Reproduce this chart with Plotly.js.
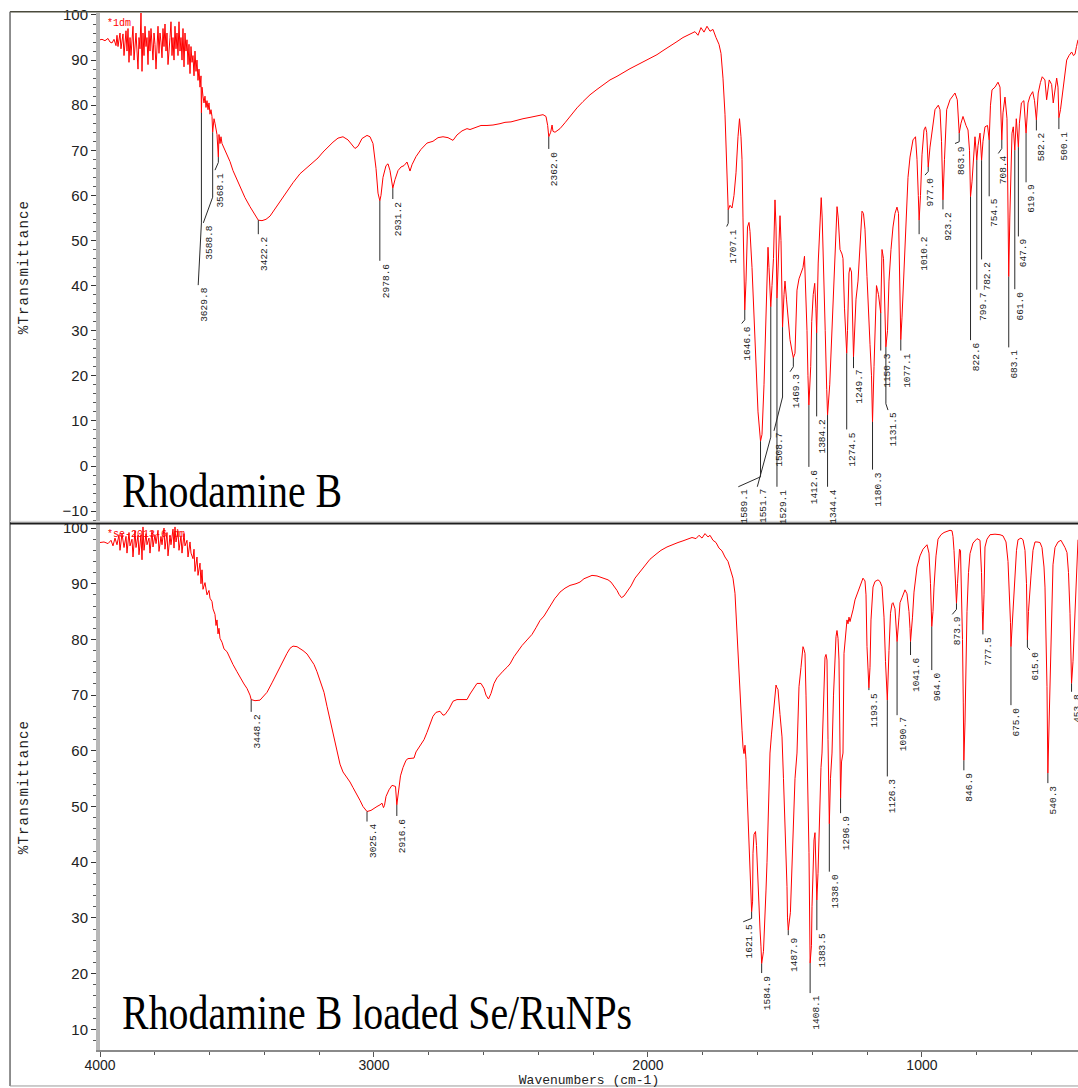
<!DOCTYPE html>
<html>
<head>
<meta charset="utf-8">
<script src="https://cdn.plot.ly/plotly-3.0.1.min.js"></script>
<style>
html,body{margin:0;padding:0;background:#fff;}
#chart{width:1078px;height:1088px;}
</style>
</head>
<body>
<div id="chart"></div>
<script>
// ---------- Rhodamine B spectrum (wavenumber cm-1, %T) ----------
const topWn = [4000,3992.7,3981.8,3970.8,3963.5,3956.2,3948.9,3941.6,3938,3934.3,3927,3923.4,3916.1,3912.4,3905.1,3901.5,3897.8,3894.2,3890.5,3886.9,3879.6,3875.9,3868.6,3865,3861.3,3857.7,3854,3850.4,3846.7,3843.1,3839.4,3835.8,3832.1,3828.5,3824.8,3821.2,3817.5,3813.9,3810.2,3806.6,3802.9,3799.3,3795.6,3792,3788.3,3784.7,3781,3777.4,3773.7,3770.1,3766.4,3762.8,3759.1,3755.5,3751.8,3744.5,3740.9,3737.2,3733.6,3729.9,3726.3,3722.6,3719,3715.3,3711.7,3708,3704.4,3700.7,3697.1,3693.4,3689.8,3686.1,3682.5,3678.8,3675.2,3671.5,3667.9,3664.2,3660.6,3656.9,3653.3,3649.6,3646,3642.3,3638.7,3635,3631.4,3629.8,3627.7,3624.1,3620.4,3616.8,3613.1,3609.5,3605.8,3602.2,3598.5,3594.9,3591.2,3588.8,3583.9,3580.3,3576.6,3573,3568.1,3565.7,3562,3558.4,3554.7,3547.4,3540.1,3532.8,3525.5,3514.6,3503.6,3489,3470.8,3452.5,3434.3,3422.2,3408.7,3394.1,3379.5,3361.3,3343,3321.1,3295.6,3270,3248.1,3222.6,3204.3,3186.1,3167.8,3149.6,3131.3,3113.1,3094.8,3080.2,3069.3,3058.3,3043.7,3025.5,3014.5,3003.6,2992.6,2985.3,2978.6,2974.4,2967.1,2956.1,2948.8,2941.5,2934.2,2931.2,2923.3,2912.3,2901.4,2890.4,2879.5,2872.2,2868.5,2861.2,2846.6,2828.4,2806.5,2784.6,2766.3,2748.1,2729.8,2711.6,2697,2678.7,2660.5,2649.5,2631.3,2609.4,2587.5,2565.6,2540,2521.8,2499.9,2478,2456.1,2430.5,2405,2383.1,2372.1,2366,2362.0,2355,2350,2346.6,2339.3,2332,2321,2302.8,2284.5,2259,2237.1,2211.5,2186,2164.1,2138.5,2112.9,2087.4,2065.5,2039.9,2018.1,1992.5,1967,1945.1,1919.5,1894,1872.1,1846.5,1828.3,1817.3,1806.4,1795.4,1784.5,1773.5,1762.6,1751.6,1740.7,1733.4,1726.1,1718.8,1715.1,1711.5,1707.1,1700.5,1693.2,1685.9,1678.6,1671.3,1665.8,1660.4,1656.7,1653.1,1649.4,1646.6,1642.1,1636.6,1631.2,1627.5,1620.2,1612.9,1605.6,1598.3,1589.1,1583.7,1576.4,1569.1,1561.8,1558.2,1551.7,1547.2,1541.8,1536.3,1532.6,1529.1,1523.5,1518,1514.4,1508.7,1503.4,1499.8,1494.3,1488.8,1481.5,1474.2,1469.3,1463.3,1459.6,1456,1448.7,1441.4,1434.1,1428.6,1423.1,1419.5,1416,1412.6,1405.9,1402.2,1396.8,1391.3,1387,1384.2,1378.6,1373.1,1367.6,1364,1358.4,1353,1347.5,1344.4,1336.5,1329.2,1321.9,1314.6,1309.8,1305.5,1299,1291.7,1288.1,1282.6,1274.5,1271.6,1266.2,1262.5,1257,1249.7,1246.1,1240.6,1233.3,1226,1218.7,1213.3,1207.8,1200.5,1195,1189.5,1184,1180.3,1174.9,1169.4,1165.8,1162.1,1158.5,1150.3,1145.7,1140.2,1136.6,1131.5,1125.6,1120.2,1112.9,1105.6,1098.3,1091,1085.5,1080,1077.1,1072.7,1065.4,1058.1,1050.8,1043.5,1032.6,1023.4,1017.9,1013.2,1010.2,1005.2,999.7,992.4,986.9,982.6,977,970.5,963.2,952.3,940.2,934,928.5,923.2,917.6,909.6,897.5,879.3,870.9,866.5,863.9,857.4,850.1,839.1,831.8,826.3,822.6,817.2,813.6,806.3,799.7,795.3,788,782.2,777.1,769.8,760.6,754.5,749.8,744.2,733.3,722.3,715,711.4,708.4,704.1,696.8,689.5,685.8,683.1,679.2,674.9,671.2,666.5,661,655.5,651.1,647.9,644.2,636.9,627.8,619.9,612.8,605.5,595.6,589,582.2,575.5,567.5,560.9,551,544.8,535.3,526.5,520.7,514.3,508.1,503.3,500.1,494.2,486.2,479.6,471.6,463.2,453.4,446.8,441.3,435.8,430.3];
const topT = [94.5,94.6,94.3,94.8,94.0,93.8,94.6,93.2,95.5,93.0,96.0,92.5,95.8,91.0,96.5,92.0,97.0,89.5,95.0,91.0,97.5,90.0,96.0,93.0,88.0,95.0,92.5,100.5,87.5,96,91,97.5,93,95,89,96.5,92,97,94,90,96,93.5,88,95,97.5,91.5,96,94,90.5,97,93,98,92,96,89,95,98.5,91,95,90,97.5,92.5,96,91,98.5,92,95,90,97,88.5,96,92,94.5,89,93.5,87,93,89.5,91,86.5,92,87.5,90,85.5,88,84,86.5,78.3,84,82,80.5,82,79.5,81,79,80.5,78,79,77.5,74.0,77.0,76.0,75.0,73.5,68.5,73.5,71.5,73,71.5,70.5,69.5,68.5,67.5,65.5,64,62,59.5,57.5,55.5,54.5,54.4,54.7,55.4,57,58.6,60.7,62.8,64.8,65.9,67.2,68.3,69.6,70.8,71.8,72.7,73.0,72.3,71.2,70.4,70.9,72.6,73.3,73.0,71.5,66,60.5,58.8,60,64,66.6,67,65.5,62.5,61.6,63.5,65.5,66.3,66.6,67.4,66.2,65.4,66.8,68.6,70.2,71.6,72,72.8,73.0,72.8,72.2,73.4,74.3,74.8,74.6,75,75.5,75.5,75.6,75.9,76.2,76.3,76.7,77,77.3,77.6,77.9,77.5,75.5,73.0,74.0,75.6,74.2,74.0,74.3,74.8,76.1,77.5,79.4,80.8,82.3,83.5,84.4,85.6,86.4,87.4,88.1,88.9,89.6,90.5,91.2,92.1,93.2,94.1,95.0,95.7,96.3,95.5,97.2,96.2,97.5,96.4,96.8,95.0,93.5,91.5,86,78,70,63,56.8,57.8,57.2,60,65,73,77,73,68,55,42,34.6,41,53,54,52,44,34,22,12,5.5,7,18,33,48.5,44,35.3,40,46,59,53,37.2,47,55.5,50,30.8,38,41,37,33,28,25.5,24.0,25,33,39,41.5,43,44,46.5,38,30,20,13.5,22,32,38,40.5,35,29.5,45,52,59.5,55,44,30,17,11.3,18,29,42,52,57.5,55,48,47,46,35,25.0,30,42.8,44,43,24.2,30,37,41,50,56.5,56,52.5,42,33,27,20,9.8,22,31,40,39,38,33.9,48,46,36,26.4,30,41,48,53,56,57.4,56,42,28,33,44,56,64,68.5,72.3,73,68,60,54.5,60,69,74.5,75.2,74,66.3,70.7,74,79,80,79,72,59,68,79,81.2,82.7,81.2,77,73.8,76,77.5,75.5,74.5,70,59.7,63,66.3,73,67.8,71,73.8,67.8,72,75.2,75.5,72.3,80,83.4,84,85.1,84,78,72.3,78.3,81.8,77,55,42,55,70,73.8,75.2,70,77,74,70.7,76,80.5,81,73.8,80.5,82,83,81,76.7,82.7,85,86.3,85.6,81.2,85.6,84.6,80.5,83.5,86,84,77.2,79,83.4,86.5,90,91,91.8,91.0,91.3,93,94.5];

// ---------- Rhodamine B loaded Se/RuNPs spectrum ----------
const botWn = [4000,3985.4,3970.8,3959.9,3952.6,3945.3,3938,3930.7,3927,3919.7,3912.4,3905.1,3901.5,3894.2,3890.5,3883.2,3879.6,3872.3,3868.6,3861.3,3857.7,3850.4,3846.7,3843.1,3839.4,3832.1,3828.5,3821.2,3817.5,3810.2,3806.6,3799.3,3795.6,3788.3,3784.7,3777.4,3773.7,3766.4,3762.8,3755.5,3751.8,3744.5,3740.9,3733.6,3729.9,3726.3,3722.6,3715.3,3711.7,3704.4,3700.7,3693.4,3689.8,3682.5,3678.8,3671.5,3667.9,3660.6,3656.9,3653.3,3646,3642.3,3635,3631.4,3627.7,3624.1,3616.8,3609.5,3602.2,3598.5,3591.2,3587.6,3580.3,3576.6,3573,3569.3,3565.7,3562,3554.7,3547.4,3536.5,3525.5,3514.6,3500,3489,3474.4,3463.5,3452.5,3448.2,3434.3,3416,3401.4,3390.5,3372.2,3354,3335.7,3317.5,3306.5,3295.6,3281,3270,3259.1,3244.5,3233.5,3218.9,3207.9,3197,3182.4,3171.5,3160.5,3149.6,3135,3124,3113.1,3098.5,3087.5,3076.6,3062,3051,3040.1,3029.1,3025.4,3010.9,2999.9,2989,2978,2970.7,2965.3,2961.6,2956.1,2945.2,2934.2,2921.4,2916.6,2908.7,2903.2,2894.1,2883.1,2875.8,2864.9,2853.9,2846.6,2832,2817.4,2806.5,2795.5,2784.6,2773.6,2759,2748.1,2740.8,2726.2,2711.6,2697,2678.7,2660.5,2649.5,2634.9,2624,2609.4,2598.4,2591.1,2582,2572.9,2561.9,2551,2540,2529.1,2514.5,2503.5,2488.9,2474.3,2459.7,2441.5,2423.2,2408.6,2394,2379.4,2368.5,2357.5,2346.6,2339.3,2332,2321,2302.8,2284.5,2262.6,2248,2233.4,2218.8,2204.2,2186,2175,2160.4,2145.8,2134.9,2123.9,2112.9,2105.7,2096.5,2087.4,2076.5,2061.9,2047.3,2029,2010.8,1992.5,1970.6,1952.4,1930.5,1912.2,1890.3,1872.1,1853.8,1839.2,1824.6,1813.7,1802.7,1791.8,1780.8,1773.5,1762.6,1751.6,1740.7,1729.7,1718.8,1707.8,1700.5,1689.6,1682.3,1678.6,1675,1669.5,1664,1660.4,1656.7,1653.1,1649.4,1645.8,1642.1,1638.5,1634.8,1631.2,1627.5,1623.9,1621.5,1618,1616.6,1612.9,1607.4,1603.8,1598.3,1591,1587.4,1584.9,1578.3,1572.8,1569.1,1565.5,1561.8,1558.2,1554.5,1549,1543.6,1536.3,1532.6,1529,1525.3,1518,1510.7,1505.3,1499.8,1496.1,1492.5,1490.6,1487.9,1480,1474.2,1470.6,1466.9,1463.3,1456,1452.3,1448.7,1441.4,1434.1,1430.4,1426.8,1423.1,1419.5,1415.8,1412.2,1408.1,1403.2,1401.2,1397.6,1393.9,1390.3,1387.3,1383.5,1379.3,1375.7,1372,1368.4,1364.7,1359.3,1353.8,1350.1,1346.5,1342.8,1341,1338,1333.8,1328.2,1322.7,1317.3,1313.6,1310,1306.3,1302.7,1299,1296.9,1293.5,1288.1,1284.4,1277.1,1273.5,1269.8,1266.2,1262.5,1255.2,1251.6,1244.3,1233.3,1226,1215.1,1207.8,1204.1,1200.5,1196.8,1193.5,1189.5,1185.9,1178.6,1171.3,1160.3,1153,1145.7,1138.4,1132.9,1126.3,1120.2,1114.7,1109.2,1105.6,1098.3,1094.6,1090.7,1083.7,1080,1072.7,1061.8,1054.5,1047.2,1043.5,1041.6,1034.4,1028.9,1017.9,1007,996.1,981.5,974.2,968.7,964,959.6,955.9,948.6,941.3,930.4,919.4,908.5,897.5,890.2,886.6,882.9,879.3,873.9,870.1,866.5,862.8,859.2,855.5,851.9,849,846.9,842.8,839.1,835.5,830,824.5,813.6,798.9,788,782.5,779.6,777.5,773.4,769.8,762.5,751.5,733.3,715,704.1,693.1,685.8,680.3,676.7,675,671.2,665.8,660.3,654.8,649.3,638.4,631.1,623.8,618.3,615,611.1,605.5,601.9,594.6,587.3,580,569,561.7,554.4,550.8,547.1,543.5,540.3,536.2,532.5,528.9,525.2,521.6,514.3,503.3,492.4,485.1,477.8,470.5,465,459.5,455.9,453.8,448.6,445,441.3,437.6,434,430.3];
const botT = [97.4,97.5,97.2,97.8,96.8,98.2,97.0,98.8,96.0,99.0,96.5,98.5,95.5,99.2,96.8,98.0,94.8,99.5,96.5,98.7,95.2,98.8,94.3,100.2,96.0,99.0,97.0,98.2,95.5,99.5,96.6,98.8,97.2,99.6,95.8,98.5,97.0,100.0,96.2,99.2,95.0,98.7,97.0,99.8,96.4,100.2,97.5,99.5,96.0,98.6,95.5,99.0,96.8,97.8,94.8,97.5,95.5,94.5,96.2,92.2,94.8,91.5,93.7,90.0,92.5,89.0,90.2,88.0,88.8,87.4,86.8,85.5,84.5,82.5,83.5,81.0,82.0,80.2,79.5,78.3,77.8,76.6,75.5,74.2,73.2,72,71.2,70.0,69.2,69.0,69.1,69.8,70.5,72.2,74,75.9,77.5,78.4,78.8,78.7,78.4,78.0,77.4,76.5,75.5,74.2,72.5,70.5,68.0,65.5,62.8,59.8,57.6,56.2,55.2,54.4,53.4,52.2,51.1,50.0,49.2,49.1,49.3,49.7,50.0,50.3,50.6,49.8,50.2,51.8,53.0,53.8,53.6,50.3,53.0,55.5,57.0,58.3,58.6,58.6,58.7,59.8,60.9,62.0,63.3,64.9,66.2,66.9,67.1,66.4,66.5,67.5,68.9,69.2,69.2,69.2,70.2,71.4,72.1,72.1,71.2,70.0,69.3,70.3,72.1,73.1,73.8,74.3,75.0,75.6,76.9,78.0,78.9,79.9,80.9,82.1,83.4,84.2,85.1,86.0,86.9,87.4,87.8,88.5,89.2,89.7,90.0,90.3,90.9,91.2,91.5,91.4,91.2,91.0,90.7,90.3,89.6,88.8,88.1,87.5,87.8,88.6,89.6,91.0,92.2,93.4,94.4,95.3,96.0,96.6,97.0,97.4,97.7,98.0,98.3,98.1,98.7,98.2,99.0,98.4,98.7,97.8,97.4,96.4,95.9,94.8,94.0,92.8,91.0,88.3,84.5,80.4,75.5,71.5,67,63.7,60.7,59.5,61.0,58.4,53,47.6,43,38.6,34,31.1,33,41.6,45,45.5,43,35.6,28,24.8,21.8,24,29.6,35,39.9,47.6,54,59.6,63,66.1,70,71.8,71.3,71.0,66.5,62.5,55,47.6,41,35.6,30,27.8,31,38.6,43,47.6,55,59.6,66,71.5,75,78.7,78.2,77.5,70,59.6,50,41.7,21.9,25,32,40.4,44,45.3,40,33.2,38,45,52,57,59.6,70,76.8,77.3,76.3,62,53,46.9,55,59.6,70,77.5,80.5,81.6,80.2,76.3,63,51.5,58,59.6,77.5,82,83.5,82.8,84,83.2,84.4,85.3,87.1,88.6,89.8,91.0,90.5,88,78.7,74,71.3,75,83.5,89.4,90.4,90.7,90.4,89.5,84,76,69.1,78,84.7,86.4,86.6,85.5,83,79.6,84,86.6,87.5,88.9,88.2,85,82,79.6,84,88.5,93,95,96.2,97,95.5,90,82.3,85,89.4,95,98,98.8,99.2,99.4,99.6,99.5,98.5,96,92,86.5,90,94,96.2,96.0,90,80,68.6,58.3,65,79,85,92,95.4,97.3,98.1,97.8,92,85,81.7,88,96.6,98,98.8,98.9,98.8,98.6,97.5,94,88,83,78.7,82,88,92.4,96,97.9,98.2,97.9,96,90,79.9,85,90,91.4,96,97.5,97.5,97.4,96.5,93,89.4,82,71.5,56,65,75,80.3,88,93.4,96.5,97.5,97.8,97.2,96.5,95.6,92,84.7,77,72.1,76,80,84.7,90,92.4,97.9];

// ---------- peak labels: Rhodamine B ----------
const topPeakWn = [3629.8,3588.8,3568.1,3422.2,2978.6,2931.2,2362.0,1707.1,1646.6,1589.1,1551.7,1529.1,1508.7,1469.3,1412.6,1384.2,1344.4,1274.5,1249.7,1180.3,1150.3,1131.5,1077.1,1010.2,977.0,923.2,863.9,822.6,799.7,782.2,754.5,708.4,683.1,661.0,647.9,619.9,582.2,500.1];
const topPeakT  = [78.3,74.0,68.5,54.5,58.8,61.6,73.0,56.8,34.6,5.5,35.3,37.2,30.8,24.0,13.5,29.5,11.3,25.0,24.2,9.8,33.9,26.4,28.0,54.5,66.3,59.0,73.8,59.7,67.8,67.8,72.3,72.3,42.0,70.0,70.7,73.8,76.7,77.2];
const topBendT  = [53.9,59.6,67.3,null,null,null,null,53.8,32.4,-2.4,6.4,null,15.3,22.0,null,null,null,null,null,null,null,13.8,null,null,65.3,null,71.9,null,null,null,null,70.4,null,null,null,null,null,null];
const topEndWn  = [3641.6,3622.9,3580.3,null,null,null,null,1712.6,1657.8,1670.2,1600.9,null,1539.9,1481.5,null,null,null,null,null,null,null,1123.8,null,null,988.8,null,879.3,null,null,null,null,721.2,null,null,null,null,null,null];
const topEndT   = [40.1,53.9,65.6,51.4,45.5,59.2,70.3,53.1,31.6,-4.6,-4.6,-4.6,7.8,20.9,-0.2,11.0,-4.6,8.1,21.7,-0.8,25.6,12.4,25.6,51.4,64.5,56.9,71.5,27.9,39.1,45.8,59.8,69.3,26.3,39.2,50.9,62.9,74.4,74.7];

// ---------- peak labels: Rhodamine B loaded Se/RuNPs ----------
const botPeakWn = [3448.2,3025.4,2916.6,1621.5,1584.9,1487.9,1408.1,1383.5,1338.0,1296.9,1193.5,1126.3,1090.7,1041.6,964.0,873.9,846.9,777.5,675.0,615.0,540.3,453.8];
const botPeakT  = [69.2,49.1,50.3,31.1,21.8,27.8,21.9,33.2,46.9,51.5,71.3,69.1,79.6,79.6,82.3,86.5,58.3,81.7,78.7,79.9,56.0,72.1];
const botBendT  = [null,null,null,29.9,null,null,null,null,null,null,null,null,null,null,null,85.4,null,null,null,78.6,null,null];
const botEndWn  = [null,null,null,1652.2,null,null,null,null,null,null,null,null,null,null,null,889.1,null,null,null,605.5,null,null];
const botEndT   = [67.0,47.3,48.3,29.3,20.1,26.9,16.5,27.8,38.3,48.8,70.9,55.4,66.4,77.2,74.5,84.5,56.5,80.9,68.2,78.1,54.2,70.6];

const panelNames = ['Rhodamine B', 'Rhodamine B loaded Se/RuNPs'];
const fileTags = ['*1dm', '*se-2013-6.dm'];

function leader(pw, pt, bt, ew, et) {
  const xs = [], ys = [];
  for (let i = 0; i < pw.length; i++) {
    const endX = ew[i] == null ? pw[i] : ew[i];
    if (bt[i] == null) {
      xs.push(pw[i], endX, null); ys.push(pt[i], et[i], null);
    } else {
      xs.push(pw[i], pw[i], endX, null); ys.push(pt[i], bt[i], et[i], null);
    }
  }
  return {xs, ys};
}
const tl = leader(topPeakWn, topPeakT, topBendT, topEndWn, topEndT);
const bl = leader(botPeakWn, botPeakT, botBendT, botEndWn, botEndT);

const traces = [
  {x: topWn, y: topT, xaxis: 'x', yaxis: 'y', mode: 'lines', line: {color: '#ff0000', width: 1}, hoverinfo: 'skip'},
  {x: botWn, y: botT, xaxis: 'x', yaxis: 'y2', mode: 'lines', line: {color: '#ff0000', width: 1}, hoverinfo: 'skip'},
  {x: tl.xs, y: tl.ys, xaxis: 'x', yaxis: 'y', mode: 'lines', line: {color: '#2a2a2a', width: 1}, hoverinfo: 'skip', connectgaps: false},
  {x: bl.xs, y: bl.ys, xaxis: 'x', yaxis: 'y2', mode: 'lines', line: {color: '#2a2a2a', width: 1}, hoverinfo: 'skip', connectgaps: false}
];

const annots = [];
function peakLabels(pw, ew, et, yref) {
  for (let i = 0; i < pw.length; i++) {
    annots.push({
      x: ew[i] == null ? pw[i] : ew[i], y: et[i], xref: 'x', yref: yref,
      text: pw[i].toFixed(1), textangle: -90, showarrow: false,
      xanchor: 'center', yanchor: 'top', xshift: 6, borderpad: 1,
      font: {family: 'Liberation Mono, DejaVu Sans Mono, monospace', size: 9.5, color: '#1a1a1a'}
    });
  }
}
peakLabels(topPeakWn, topEndWn, topEndT, 'y');
peakLabels(botPeakWn, botEndWn, botEndT, 'y2');

// sample names
const nameFont = {family: 'Liberation Serif, Times New Roman, serif', size: 48, color: '#000'};
annots.push({xref: 'paper', yref: 'paper', x: 0.0204, y: 0.5395, xanchor: 'left', yanchor: 'middle', showarrow: false,
  text: panelNames[0], font: nameFont, name: 'pname'});
annots.push({xref: 'paper', yref: 'paper', x: 0.0204, y: 0.0357, xanchor: 'left', yanchor: 'middle', showarrow: false,
  text: panelNames[1], font: nameFont, name: 'pname'});
// file tags
annots.push({xref: 'paper', yref: 'paper', x: 0.0051, y: 0.997, xanchor: 'left', yanchor: 'top', showarrow: false,
  text: fileTags[0], font: {family: 'Liberation Mono, monospace', size: 10, color: '#ff0000'}});
annots.push({xref: 'paper', yref: 'paper', x: 0.0051, y: 0.5045, xanchor: 'left', yanchor: 'top', showarrow: false,
  text: fileTags[1], font: {family: 'Liberation Mono, monospace', size: 10, color: '#ff0000'}});

const yCommon = {
  showgrid: false, zeroline: false, showline: true, linecolor: '#b8b8b8', linewidth: 4,
  ticks: 'outside', ticklen: 5, tickwidth: 1, tickcolor: '#333', dtick: 10, tick0: 0,
  minor: {dtick: 2, ticks: 'outside', ticklen: 3, tickcolor: '#555', tickwidth: 1},
  tickfont: {family: 'Liberation Sans, Arial, sans-serif', size: 15, color: '#222'},
  anchor: 'x'
};

const layout = {
  width: 1078, height: 1088,
  margin: {l: 100, r: 0, t: 13, b: 38, pad: 0},
  paper_bgcolor: '#ffffff', plot_bgcolor: '#ffffff',
  showlegend: false,
  xaxis: {
    range: [4000, 430.3], anchor: 'y2', showgrid: false, zeroline: false,
    showline: true, linecolor: '#8a8a8a', linewidth: 2,
    ticks: 'outside', ticklen: 5, tickcolor: '#555', tick0: 0, dtick: 1000,
    ticklabelstandoff: -4,
    minor: {dtick: 200, ticks: 'outside', ticklen: 3, tickcolor: '#555'},
    tickfont: {family: 'Liberation Sans, Arial, sans-serif', size: 14, color: '#222'},
    title: {text: 'Wavenumbers (cm-1)', standoff: 9, font: {family: 'Liberation Mono, monospace', size: 13, color: '#222'}}
  },
  yaxis: Object.assign({}, yCommon, {
    domain: [0.5101, 1], range: [-12.2, 100.44],
    title: {text: '%Transmittance', standoff: 32, font: {family: 'Liberation Mono, monospace', size: 14, color: '#222'}}
  }),
  yaxis2: Object.assign({}, yCommon, {
    domain: [0, 0.5072], range: [6.28, 100.72],
    title: {text: '%Transmittance', standoff: 32, font: {family: 'Liberation Mono, monospace', size: 14, color: '#222'}}
  }),
  annotations: annots,
  shapes: [
    {type: 'line', xref: 'paper', yref: 'paper', x0: -0.092, x1: 1, y0: 1.0012, y1: 1.0012, line: {color: '#4a4a3c', width: 1.5}},
    {type: 'line', xref: 'paper', yref: 'paper', x0: -0.092, x1: -0.092, y0: 1.0012, y1: -0.0347, line: {color: '#6a6a6a', width: 1.5}},
    {type: 'line', xref: 'paper', yref: 'paper', x0: -0.092, x1: 1, y0: 0.5098, y1: 0.5098, line: {color: '#cfcfcf', width: 1}},
    {type: 'line', xref: 'paper', yref: 'paper', x0: -0.092, x1: 1, y0: 0.5077, y1: 0.5077, line: {color: '#1e1e1e', width: 2}},
    {type: 'line', xref: 'paper', yref: 'paper', x0: -0.092, x1: 1, y0: -0.0347, y1: -0.0347, line: {color: '#9a9a9a', width: 1}}
  ]
};

Plotly.newPlot('chart', traces, layout, {displayModeBar: false, staticPlot: true}).then(function (gd) {
  // the sample names in the original are a narrow serif: condense them horizontally
  gd.querySelectorAll('.annotation-text').forEach(function (t) {
    if (panelNames.indexOf(t.textContent) >= 0) {
      t.style.transformBox = 'fill-box';
      t.style.transformOrigin = '0% 50%';
      t.style.transform = 'scaleX(0.83)';
    }
  });
  // wide letter spacing of the axis titles
  gd.querySelectorAll('.ytitle, .y2title').forEach(function (t) { t.style.letterSpacing = '1.2px'; });
});
</script>
</body>
</html>
